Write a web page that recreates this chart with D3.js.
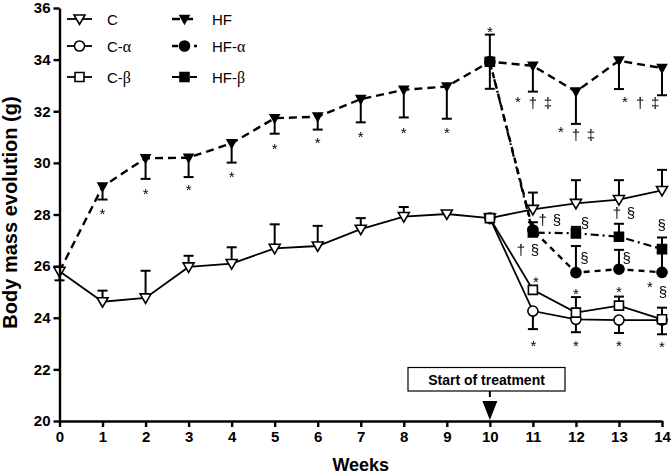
<!DOCTYPE html>
<html>
<head>
<meta charset="utf-8">
<script src="https://cdn.jsdelivr.net/npm/d3@7"></script>
<style>
  body { margin: 0; background: #fff; }
  text { font-family: 'Liberation Sans', Arial, sans-serif; }
</style>
</head>
<body>
<div id="chart"></div>
<script>
// weeks on the x axis
const weeks = d3.range(0, 15);
const yTicks = [20, 22, 24, 26, 28, 30, 32, 34, 36];

// control diet (C) and high fat (HF), whole study
const cMean = [25.8, 24.62, 24.77, 25.97, 26.1, 26.69, 26.78, 27.43, 27.92, 28.02, 27.86, 28.2, 28.43, 28.58, 28.93];
const cErrUp = [0, 0.43, 1.05, 0.43, 0.63, 0.93, 0.78, 0.43, 0.37, 0.08, 0.1, 0.65, 0.9, 0.75, 0.8];
const hfMean = [25.8, 29.08, 30.18, 30.2, 30.76, 31.73, 31.79, 32.47, 32.83, 32.96, 33.92, 33.76, 32.76, 33.96, 33.67];
const hfErrDown = [0.35, 0.5, 0.8, 0.75, 0.75, 0.6, 0.5, 0.9, 1.07, 1.25, 1.05, 1.0, 1.25, 1.1, 1.05];
const hfErrUp = [0, 0, 0, 0, 0, 0, 0, 0, 0, 0, 1.05, 0, 0, 0, 0];

// treated groups, weeks 10 - 14
const treatWeeks = [10, 11, 12, 13, 14];
const cAlphaMean = [27.86, 24.26, 23.94, 23.91, 23.91];
const cAlphaErrDown = [0, 0.7, 0.5, 0.5, 0.55];
const cBetaMean = [27.86, 25.08, 24.2, 24.47, 23.94];
const cBetaErrUp = [0, 0.12, 0.6, 0.35, 0.45];
const hfAlphaMean = [33.92, 27.4, 25.75, 25.88, 25.76];
const hfAlphaErrUp = [0, 0, 1.03, 0.75, 0.85];
const hfBetaMean = [33.92, 27.3, 27.27, 27.14, 26.66];
const hfBetaErrUp = [0, 0.4, 0.25, 0.5, 0.45];

// significance marks: [week, level, symbol]
const marks = [
  [1, 28.18, '*'], [2, 28.95, '*'], [3, 29.12, '*'], [4, 29.62, '*'], [5, 30.7, '*'],
  [6, 30.92, '*'], [7, 31.17, '*'], [8, 31.32, '*'], [9, 31.32, '*'], [10, 35.23, '*'],
  [10.65, 32.52, '*'], [11, 32.33, '†'], [11.35, 32.33, '‡'],
  [11.65, 31.36, '*'], [12, 31.09, '†'], [12.35, 31.09, '‡'],
  [13.14, 32.52, '*'], [13.49, 32.33, '†'], [13.84, 32.33, '‡'],
  [11.23, 27.79, '†'], [11.56, 27.79, '§'], [10.72, 26.63, '†'], [11.05, 26.63, '§'],
  [11.07, 25.53, '*'], [11.01, 23.07, '*'],
  [12.21, 27.66, '§'], [12.2, 26.33, '§'], [12, 25.08, '*'], [12, 23.07, '*'],
  [12.95, 28.05, '†'], [13.28, 28.05, '§'], [13.18, 26.3, '§'], [13, 25.14, '*'], [13, 23.07, '*'],
  [13.99, 27.6, '§'], [13.72, 25.34, '*'], [14.02, 25.01, '§'], [14, 23.01, '*'],
];

const width = 672;
const height = 474;

const svg = d3.select('#chart')
  .append('svg')
  .attr('width', width)
  .attr('height', height);

const x = d3.scaleLinear().domain([0, 14]).range([59.5, 662]);
const y = d3.scaleLinear().domain([20, 36]).range([421, 8]);

// marker shapes
const triOpen = 'M-5.5,-4L5.5,-4L0,5.5Z';
const triFilled = 'M-4.5,-3.5L4.5,-3.5L0,4.5Z';
const square = 'M-4.5,-4.5H4.5V4.5H-4.5Z';
const circle = d3.symbol(d3.symbolCircle, 80)();

const series = [
  { name: 'C', xs: weeks, mean: cMean, up: cErrUp, down: weeks.map(() => 0), shape: triOpen, fill: '#fff', dash: null, lw: 1.8 },
  { name: 'C-α', xs: treatWeeks, mean: cAlphaMean, up: treatWeeks.map(() => 0), down: cAlphaErrDown, shape: circle, fill: '#fff', dash: null, lw: 1.8 },
  { name: 'C-β', xs: treatWeeks, mean: cBetaMean, up: cBetaErrUp, down: treatWeeks.map(() => 0), shape: square, fill: '#fff', dash: null, lw: 1.8 },
  { name: 'HF', xs: weeks, mean: hfMean, up: hfErrUp, down: hfErrDown, shape: triFilled, fill: '#000', dash: '8,5', lw: 2.4 },
  { name: 'HF-α', xs: treatWeeks, mean: hfAlphaMean, up: hfAlphaErrUp, down: treatWeeks.map(() => 0), shape: circle, fill: '#000', dash: '6,5', lw: 2.4 },
  { name: 'HF-β', xs: treatWeeks, mean: hfBetaMean, up: hfBetaErrUp, down: treatWeeks.map(() => 0), shape: square, fill: '#000', dash: '8,4,2,4', lw: 2.2 },
];

const line = d3.line().x((d) => x(d[0])).y((d) => y(d[1]));

// draw HF family first so the C family sits on top
const order = [3, 4, 5, 0, 1, 2];
order.forEach((k) => {
  const s = series[k];
  const pts = s.xs.map((w, i) => [w, s.mean[i], s.up[i], s.down[i]]);
  const g = svg.append('g');
  g.append('path')
    .attr('d', line(pts))
    .attr('fill', 'none')
    .attr('stroke', '#000')
    .attr('stroke-width', s.lw)
    .attr('stroke-dasharray', s.dash);
  // error bars
  pts.filter((d) => d[2] > 0 || d[3] > 0).forEach((d) => {
    const top = y(d[1] + d[2]);
    const bot = y(d[1] - d[3]);
    g.append('line')
      .attr('x1', x(d[0])).attr('x2', x(d[0]))
      .attr('y1', top).attr('y2', bot)
      .attr('stroke', '#000').attr('stroke-width', 2);
    if (d[2] > 0) {
      g.append('line')
        .attr('x1', x(d[0]) - 5).attr('x2', x(d[0]) + 5)
        .attr('y1', top).attr('y2', top)
        .attr('stroke', '#000').attr('stroke-width', 2);
    }
    if (d[3] > 0) {
      g.append('line')
        .attr('x1', x(d[0]) - 5).attr('x2', x(d[0]) + 5)
        .attr('y1', bot).attr('y2', bot)
        .attr('stroke', '#000').attr('stroke-width', 2);
    }
  });
  g.selectAll('.pt')
    .data(pts)
    .enter()
    .append('path')
    .attr('d', s.shape)
    .attr('transform', (d) => `translate(${x(d[0])},${y(d[1])})`)
    .attr('fill', s.fill)
    .attr('stroke', '#000')
    .attr('stroke-width', 1.6);
});

// axes
const xAxis = svg.append('g')
  .attr('transform', `translate(0,${y(20)})`)
  .call(d3.axisBottom(x).tickValues(weeks).tickSize(6).tickSizeOuter(0).tickPadding(4));
const yAxis = svg.append('g')
  .attr('transform', `translate(${x(0)},0)`)
  .call(d3.axisLeft(y).tickValues(yTicks).tickSize(6).tickSizeOuter(0).tickPadding(3));
[xAxis, yAxis].forEach((a) => {
  a.select('.domain').attr('stroke-width', 2.4);
  a.selectAll('.tick line').attr('stroke-width', 2.4);
  a.selectAll('.tick text')
    .attr('font-size', 15)
    .attr('font-weight', 'bold')
    .attr('font-family', "'Liberation Sans', Arial, sans-serif")
    .attr('fill', '#000');
});

svg.append('text')
  .attr('x', (x(0) + x(14)) / 2)
  .attr('y', 471)
  .attr('text-anchor', 'middle')
  .attr('font-size', 18)
  .attr('font-weight', 'bold')
  .text('Weeks');

svg.append('text')
  .attr('transform', `translate(17,${(y(20) + y(36)) / 2 - 2}) rotate(-90)`)
  .attr('text-anchor', 'middle')
  .attr('font-size', 20)
  .attr('font-weight', 'bold')
  .text('Body mass evolution (g)');

// significance marks
svg.append('g')
  .style('filter', 'grayscale(1)')
  .selectAll('.mark')
  .data(marks)
  .enter()
  .append('text')
  .attr('x', (d) => x(d[0]))
  .attr('y', (d) => y(d[1]))
  .attr('dy', (d) => (d[2] === '*' ? 9 : 5))
  .attr('text-anchor', 'middle')
  .attr('font-size', 15)
  .attr('fill', '#000')
  .text((d) => d[2]);

// start of treatment box and arrow
const tx = x(10);
svg.append('rect')
  .attr('x', 408).attr('y', 367.5)
  .attr('width', 157).attr('height', 23.5)
  .attr('fill', '#fff').attr('stroke', '#000').attr('stroke-width', 1.2);
svg.append('text')
  .attr('x', 486.5).attr('y', 385)
  .attr('text-anchor', 'middle')
  .attr('font-size', 14)
  .attr('font-weight', 'bold')
  .text('Start of treatment');
svg.append('line')
  .attr('x1', tx).attr('x2', tx).attr('y1', 391).attr('y2', 397)
  .attr('stroke', '#000').attr('stroke-width', 2);
svg.append('path')
  .attr('d', `M${tx - 7.5},401L${tx + 7.5},401L${tx},420Z`)
  .attr('fill', '#000');

// legend
const legendPos = [[67, 19], [67, 46], [67, 77], [172, 19], [172, 46], [172, 77]];
series.forEach((s, i) => {
  const [lx, ly] = legendPos[i];
  const g = svg.append('g').attr('transform', `translate(${lx},${ly})`);
  g.append('line')
    .attr('x1', 0).attr('x2', 25).attr('y1', 0).attr('y2', 0)
    .attr('stroke', '#000').attr('stroke-width', s.lw)
    .attr('stroke-dasharray', s.dash);
  g.append('path')
    .attr('d', s.shape)
    .attr('transform', 'translate(12.5,0)')
    .attr('fill', s.fill)
    .attr('stroke', '#000')
    .attr('stroke-width', 1.6);
  const parts = s.name.split('-');
  const t = g.append('text')
    .attr('x', 40)
    .attr('y', 5.5)
    .attr('font-size', 15);
  t.append('tspan').text(parts[0]);
  if (parts[1]) {
    t.append('tspan').text('-');
    t.append('tspan')
      .attr('font-family', "'Liberation Serif', 'DejaVu Serif', serif")
      .attr('font-size', 16)
      .text(parts[1]);
  }
});
</script>
</body>
</html>
